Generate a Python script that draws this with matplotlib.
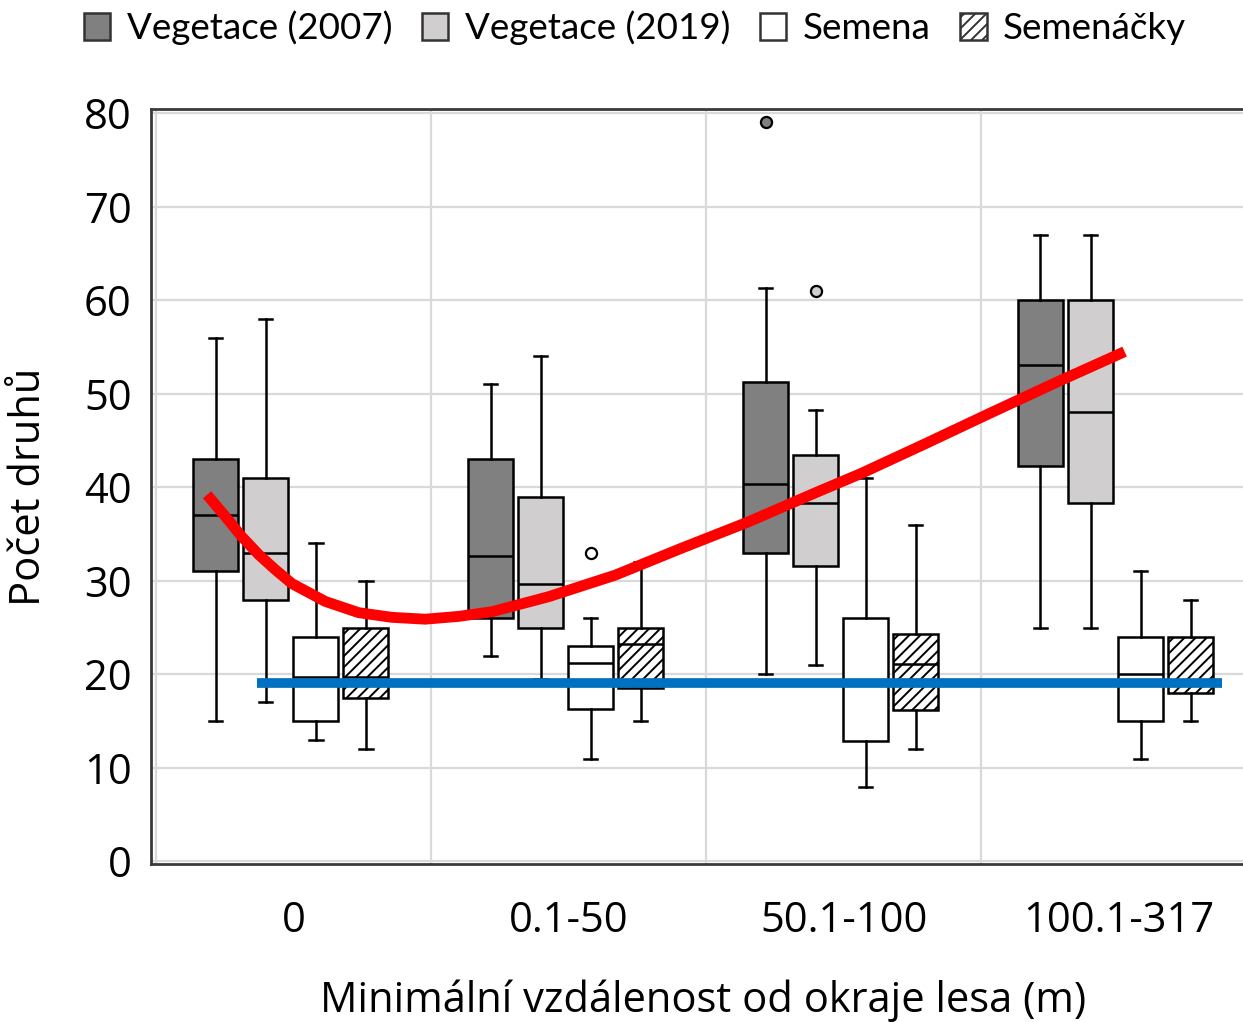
import matplotlib
matplotlib.use("Agg")
import matplotlib.pyplot as plt
from matplotlib.patches import Patch
import numpy as np

plt.rcParams["hatch.linewidth"] = 1.4

categories = ["0", "0.1-50", "50.1-100", "100.1-317"]
series = ["Vegetace (2007)", "Vegetace (2019)", "Semena", "Semenáčky"]

# per series: [whislo, q1, med, q3, whishi] for each category
veg2007 = [[15, 31, 37, 43, 56], [22, 26, 32.7, 43, 51], [20, 33, 40.3, 51.3, 61.3], [25, 42.3, 53.1, 60, 67]]
veg2019 = [[17, 28, 33, 41, 58], [19.5, 25, 29.7, 39, 54], [21, 31.6, 38.3, 43.5, 48.3], [25, 38.3, 48.1, 60, 67]]
semena = [[13, 15, 19.7, 24, 34], [11, 16.3, 21.2, 23, 26], [8, 12.9, 19, 26, 41], [11, 15, 20, 24, 31]]
semenacky = [[12, 17.5, 19.7, 25, 30], [15, 18.5, 23.2, 25, 32], [12, 16.2, 21.1, 24.3, 36], [15, 18, 19.3, 24, 28]]

veg2007_out = [[], [], [79], []]
veg2019_out = [[], [], [61], []]
semena_out = [[], [33], [], []]
semenacky_out = [[], [], [], []]

# red trend curve: x in category units, y
trend_x = [-0.316, -0.25, -0.189, -0.128, -0.068, -0.007, 0.114, 0.235, 0.356, 0.477, 0.599,
           0.72, 0.926, 1.168, 1.411, 1.653, 1.896, 2.065, 2.30, 2.538, 2.78, 3.022]
trend_y = [39.2, 36.9, 34.7, 32.8, 31.2, 29.7, 27.8, 26.6, 26.1, 25.9, 26.2,
           26.7, 28.3, 30.6, 33.5, 36.3, 39.4, 41.5, 44.7, 48.0, 51.3, 54.5]

# blue horizontal reference line
ref_y = 19.1
ref_x = [-0.134, 3.376]

data = [veg2007, veg2019, semena, semenacky]
outs = [veg2007_out, veg2019_out, semena_out, semenacky_out]
faces = ["#808080", "#d0cece", "#ffffff", "#ffffff"]
hatches = [None, None, None, "///"]

W, H = 1243, 1022
fig = plt.figure(figsize=(W / 100, H / 100), dpi=100)
ax = fig.add_axes([151 / W, 1 - 864 / H, 1105 / W, 755 / H])
ax.set_xlim(-0.52, 3.5)
ax.set_ylim(-0.27, 80.44)

# grid
for yv in range(0, 81, 10):
    ax.axhline(yv, color="#d9d9d9", lw=1.6, zorder=0)
for xv in [-0.5, 0.5, 1.5, 2.5, 3.5]:
    ax.axvline(xv, color="#d9d9d9", lw=1.6, zorder=0)

spacing = 0.182
offsets = [(-1.5 + i) * spacing - 0.011 for i in range(4)]
bw = 0.164
lw = 1.8

for si in range(4):
    stats = []
    for ci in range(4):
        lo, q1, med, q3, hi = data[si][ci]
        stats.append(dict(whislo=lo, q1=q1, med=med, q3=q3, whishi=hi, fliers=outs[si][ci]))
    pos = [ci + offsets[si] for ci in range(4)]
    bp = ax.bxp(stats, positions=pos, widths=bw, patch_artist=True, showfliers=True,
                capwidths=0.048, manage_ticks=False,
                boxprops=dict(edgecolor="black", linewidth=lw),
                whiskerprops=dict(color="black", linewidth=lw),
                capprops=dict(color="black", linewidth=lw),
                medianprops=dict(color="black", linewidth=lw),
                flierprops=dict(marker="o", markersize=8, markerfacecolor=faces[si],
                                markeredgecolor="black", markeredgewidth=1.6))
    for b in bp["boxes"]:
        b.set_facecolor(faces[si])
        if hatches[si]:
            b.set_hatch(hatches[si])
    for art in ["boxes", "whiskers", "caps", "medians", "fliers"]:
        for a in bp[art]:
            a.set_zorder(2)

ax.plot(trend_x, trend_y, color="#ff0000", lw=7.8, solid_capstyle="butt",
        solid_joinstyle="round", zorder=5)
ax.plot(ref_x, [ref_y, ref_y], color="#0070c0", lw=7.0, solid_capstyle="butt", zorder=6)

ax.set_xticks(range(4))
ax.set_xticklabels(categories)
ax.set_yticks(range(0, 81, 10))
ax.tick_params(axis="both", length=0, labelsize=30)
ax.tick_params(axis="x", pad=26)
ax.tick_params(axis="y", pad=14)
for lab in ax.get_xticklabels() + ax.get_yticklabels():
    lab.set_fontfamily("Open Sans")

for s in ["left", "top", "bottom"]:
    ax.spines[s].set_color("#3a3a3a")
    ax.spines[s].set_linewidth(2.0)
ax.spines["right"].set_visible(False)

ax.set_xlabel("Minimální vzdálenost od okraje lesa (m)", fontsize=30, family="Open Sans", labelpad=27)
ax.set_ylabel("Počet druhů", fontsize=30, family="Open Sans", labelpad=24)

handles = [Patch(facecolor=faces[i], edgecolor="#333333", linewidth=1.8, hatch=hatches[i]) for i in range(4)]
fig.legend(handles, series, loc="center", bbox_to_anchor=(635 / W, 1 - 28 / H), ncol=4,
           frameon=False, prop=dict(family="Lato", size=26.5), handlelength=0.72, handleheight=0.72,
           handletextpad=0.45, columnspacing=0.8)

fig.savefig("out.png", dpi=100)
